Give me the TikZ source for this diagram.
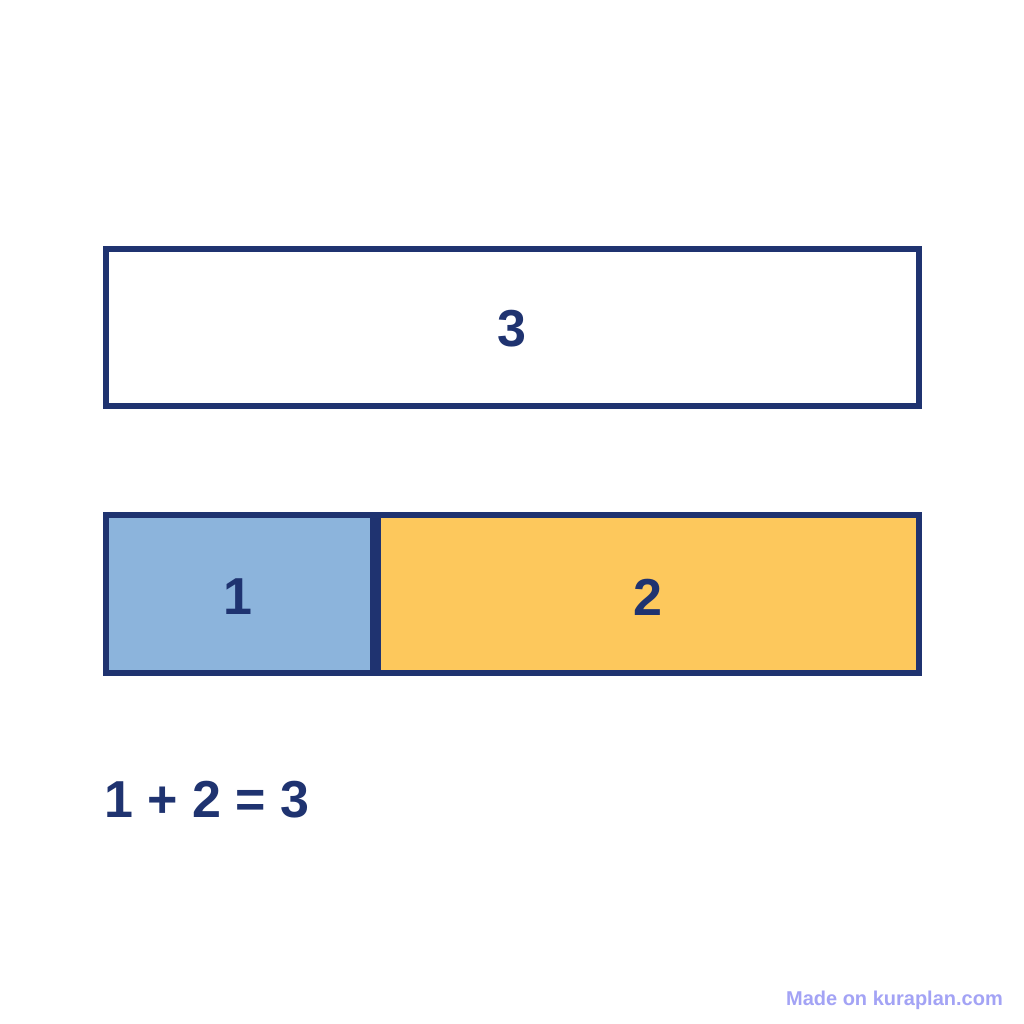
\documentclass[tikz,border=0pt]{standalone}
\usepackage{fontspec}
\setmainfont{Liberation Sans}
\usepackage{tikz}
\usetikzlibrary{positioning}
\definecolor{navy}{HTML}{1F3370}
\definecolor{partblue}{HTML}{8CB4DC}
\definecolor{partorange}{HTML}{FDC85C}
\definecolor{stamp}{HTML}{A3A3F5}
\tikzset{
  bar/.style={draw=navy, line width=6pt, rectangle, inner sep=0pt, minimum height=157.6pt},
  num/.style={text=navy, font=\fontsize{52}{58}\selectfont\bfseries, inner sep=0pt}
}

\begin{document}
\begin{tikzpicture}[x=1pt, y=-1pt]
        \useasboundingbox[fill=white] (0,0) rectangle (1024,1024);
        \node[bar, fill=white, minimum width=813.3pt] (whole) at (512.3, 327.5) {};
        \node[bar, fill=partblue, minimum width=267.3pt] (partA) at (239.3, 594.1) {};
        \node[bar, fill=partorange, minimum width=541.3pt] (partB) at (648.3, 594.1) {};
        \node[num] (three) at (512, 329) {3};
        \node[num] (one) at (238, 597) {1};
        \node[num] (two) at (648, 597) {2};
        \node[num, anchor=base west] (sum) at (104, 817) {1 + 2 = 3};
        \node[text=stamp, font=\fontsize{20}{23}\selectfont\bfseries, anchor=base east, inner sep=0pt] (mark) at (1003, 1005) {Made on kuraplan.com};
      \end{tikzpicture}
\end{document}
